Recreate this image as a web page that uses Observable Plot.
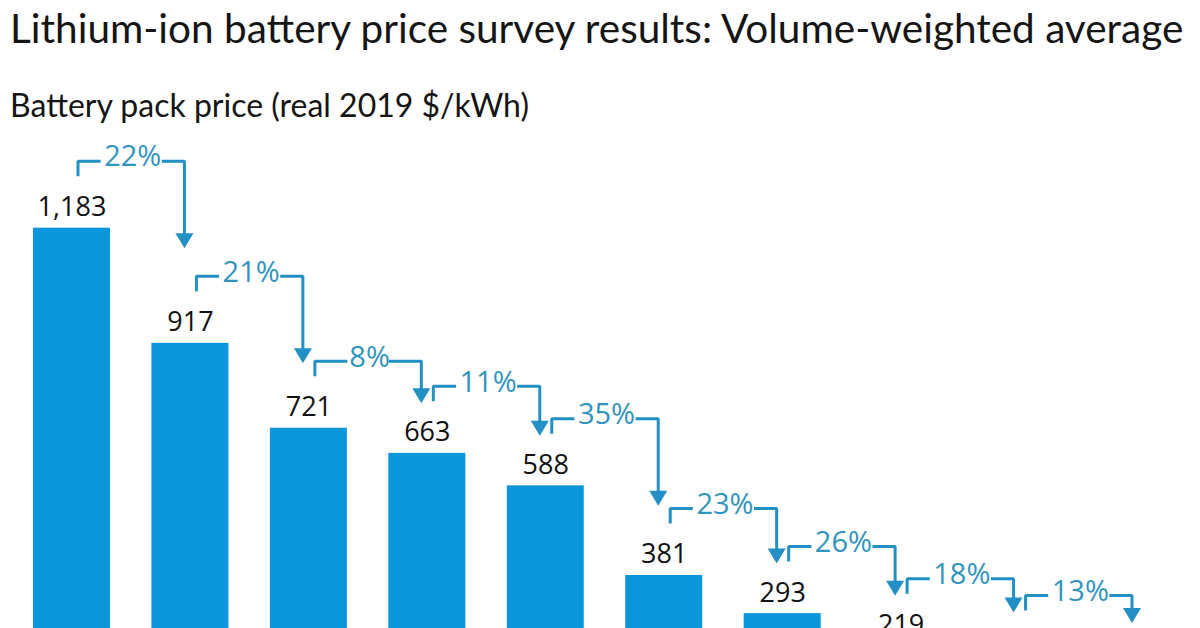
<!DOCTYPE html>
<html>
<head>
<meta charset="utf-8">
<script src="https://cdn.jsdelivr.net/npm/d3@7"></script>
<script src="https://cdn.jsdelivr.net/npm/@observablehq/plot@0.6"></script>
<style>
  html, body { margin: 0; padding: 0; background: #fff; overflow: hidden; width: 1200px; height: 628px; }
  #title { font-family: Lato, sans-serif; font-size: 39px; line-height: 56px; height: 56px; padding-left: 10px; color: #151515; white-space: nowrap; }
  #subtitle { font-family: Lato, sans-serif; font-size: 27px; line-height: 40px; height: 40px; padding-top: 29px; padding-left: 10px; color: #151515; white-space: nowrap; }
  #chart svg { display: block; }
</style>
</head>
<body>
<div id="title">Lithium-ion battery price survey results: Volume-weighted average</div>
<div id="subtitle">Battery pack price (real 2019 $/kWh)</div>
<div id="chart"></div>
<script>
// ---- data ----
const years = [2010, 2011, 2012, 2013, 2014, 2015, 2016, 2017, 2018, 2019];
const prices = [1183, 917, 721, 663, 588, 381, 293, 219, 180, 156];
const priceLabels = ["1,183", "917", "721", "663", "588", "381", "293", "219", "180", "156"];
const declines = [22, 21, 8, 11, 35, 23, 26, 18, 13];

// ---- layout / style ----
const W = 1200, H = 655, mT = 52, mB = 40, mL = 33, mR = 24;
const yMax = 1300;
const halfBar = 0.325;
const barColor = "#0b96dc";
const arrowColor = "#2290c4";
const pctColor = "#3194be";
const pctFont = "Open Sans", pctSize = 29, pctWeight = 500, pctSpacing = 3;

// fit title widths
function fit(id, target) {
  const el = document.getElementById(id);
  const fs = parseFloat(getComputedStyle(el).fontSize);
  const ctx = document.createElement("canvas").getContext("2d");
  ctx.font = `${fs}px Lato`;
  const w = ctx.measureText(el.textContent).width;
  el.style.fontSize = (fs * target / w) + "px";
}
fit("title", 1177);
fit("subtitle", 520);

const mctx = document.createElement("canvas").getContext("2d");
mctx.font = `${pctWeight} ${pctSize}px "${pctFont}"`;
const textWidth = s => mctx.measureText(s).width + (s.length - 1) * pctSpacing;

const rows = years.map((year, i) => ({year, price: prices[i], label: priceLabels[i]}));

// pixel -> data unit conversions
const pxPerYear = (W - mL - mR) / (years[years.length - 1] - years[0] + 2 * halfBar);
const pxPerUnit = (H - mT - mB) / yMax;
const dxu = p => p / pxPerYear;
const dyu = p => p / pxPerUnit;

const annos = declines.map((p, i) => {
  const text = `${p}%`;
  const x0 = years[i] + dxu(6);
  const x1 = years[i + 1] - dxu(6);
  const xm = (x0 + x1) / 2;
  const half = dxu(textWidth(text) / 2 - 1);
  const yl = prices[i] + dyu(67);
  const yt = Math.max(yl - dyu(87), prices[i + 1] + dyu(50));
  return {i, text, x0, x1, xm, xa: Math.max(x0, xm - half), xb: Math.min(x1, xm + half),
          yl, ytick: yl - dyu(15), yt, ybase: yt + dyu(15)};
});
const bracketPts = annos.flatMap(a => [
  {k: a.i + "L", x: a.x0, y: a.ytick},
  {k: a.i + "L", x: a.x0, y: a.yl},
  {k: a.i + "L", x: a.xa, y: a.yl},
  {k: a.i + "R", x: a.xb, y: a.yl},
  {k: a.i + "R", x: a.x1, y: a.yl},
  {k: a.i + "R", x: a.x1, y: a.ybase - dyu(1)}
]);
const headPts = annos.flatMap(a => [
  {i: a.i, x: a.x1 - dxu(9), y: a.ybase},
  {i: a.i, x: a.x1 + dxu(9), y: a.ybase},
  {i: a.i, x: a.x1, y: a.yt}
]);

const chart = Plot.plot({
  width: W, height: H,
  marginTop: mT, marginBottom: mB, marginLeft: mL, marginRight: mR,
  x: {type: "linear", domain: [years[0] - halfBar, years[years.length - 1] + halfBar], axis: null},
  y: {domain: [0, yMax], axis: null},
  style: {background: "#fff", overflow: "visible"},
  marks: [
    Plot.rectY(rows, {x1: d => d.year - halfBar, x2: d => d.year + halfBar, y1: 0, y2: "price", fill: barColor}),
    Plot.text(rows, {x: "year", y: "price", text: "label", dy: -12, lineAnchor: "bottom", fontSize: 27, fontWeight: 500, fontFamily: "Open Sans", fill: "#111"}),
    Plot.line(bracketPts, {x: "x", y: "y", z: "k", stroke: arrowColor, strokeWidth: 3, strokeLinejoin: "miter", strokeLinecap: "butt"}),
    Plot.line(headPts, {x: "x", y: "y", z: "i", fill: arrowColor, stroke: null}),
    Plot.text(annos, {x: "xm", y: "yl", text: "text", dx: pctSpacing / 2, dy: -4, fontSize: pctSize, fontWeight: pctWeight, fontFamily: pctFont, fill: pctColor, ariaLabel: "pct"})
  ]
});
document.getElementById("chart").appendChild(chart);
d3.select(chart).selectAll('g[aria-label="pct"] text').attr("letter-spacing", pctSpacing + "px");
</script>
</body>
</html>
